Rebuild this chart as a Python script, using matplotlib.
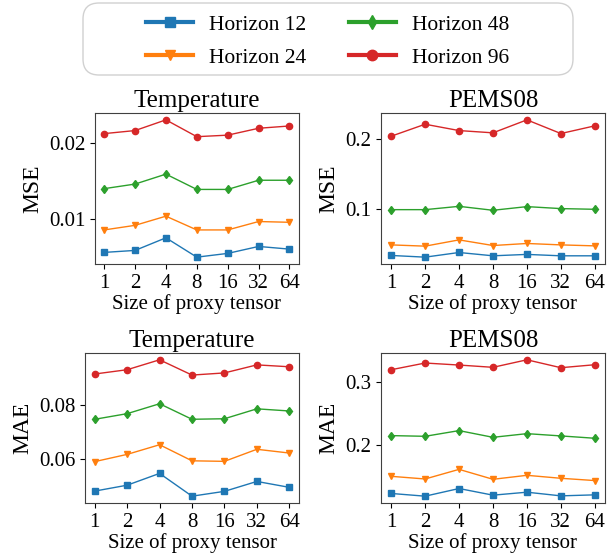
import matplotlib.pyplot as plt
from matplotlib.lines import Line2D
from matplotlib.patches import FancyBboxPatch
from matplotlib.transforms import IdentityTransform

plt.rcParams['font.family'] = ['Liberation Serif', 'DejaVu Serif']

# proxy tensor sizes
sizes = ['1', '2', '4', '8', '16', '32', '64']
horizons = ['Horizon 12', 'Horizon 24', 'Horizon 48', 'Horizon 96']
colors = ['#1f77b4', '#ff7f0e', '#2ca02c', '#d62728']
markers = ['s', 'v', 'd', 'o']

# Temperature MSE
temp_mse_12 = [0.00566, 0.00592, 0.00757, 0.00504, 0.00553, 0.00644, 0.00609]
temp_mse_24 = [0.0086, 0.0092, 0.0104, 0.0086, 0.0086, 0.0097, 0.0096]
temp_mse_48 = [0.0140, 0.0146, 0.0159, 0.0139, 0.0139, 0.0151, 0.0151]
temp_mse_96 = [0.0212, 0.0216, 0.0230, 0.0208, 0.0210, 0.0219, 0.0222]

# PEMS08 MSE
pems_mse_12 = [0.0345, 0.0321, 0.0387, 0.0340, 0.0360, 0.0340, 0.0340]
pems_mse_24 = [0.0495, 0.0477, 0.0566, 0.0486, 0.0515, 0.0495, 0.0481]
pems_mse_48 = [0.0995, 0.0995, 0.1042, 0.0986, 0.1038, 0.1010, 0.1000]
pems_mse_96 = [0.2037, 0.2207, 0.2117, 0.2085, 0.2269, 0.2075, 0.2184]

# Temperature MAE
temp_mae_12 = [0.0480, 0.0502, 0.0546, 0.0461, 0.0479, 0.0516, 0.0494]
temp_mae_24 = [0.0590, 0.0617, 0.0653, 0.0593, 0.0591, 0.0636, 0.0622]
temp_mae_48 = [0.0748, 0.0769, 0.0806, 0.0748, 0.0750, 0.0787, 0.0779]
temp_mae_96 = [0.0917, 0.0933, 0.0970, 0.0913, 0.0921, 0.0951, 0.0944]

# PEMS08 MAE
pems_mae_12 = [0.1231, 0.1188, 0.1309, 0.1204, 0.1251, 0.1193, 0.1209]
pems_mae_24 = [0.1502, 0.1460, 0.1612, 0.1455, 0.1518, 0.1471, 0.1435]
pems_mae_48 = [0.2146, 0.2135, 0.2225, 0.2119, 0.2177, 0.2141, 0.2104]
pems_mae_96 = [0.3188, 0.3294, 0.3262, 0.3226, 0.3345, 0.3220, 0.3267]

panels = [
    ('Temperature', 'MSE', [temp_mse_12, temp_mse_24, temp_mse_48, temp_mse_96], [0.154, 0.5243, 0.331, 0.2721]),
    ('PEMS08', 'MSE', [pems_mse_12, pems_mse_24, pems_mse_48, pems_mse_96], [0.6185, 0.5243, 0.3636, 0.2721]),
    ('Temperature', 'MAE', [temp_mae_12, temp_mae_24, temp_mae_48, temp_mae_96], [0.138, 0.0937, 0.3474, 0.2703]),
    ('PEMS08', 'MAE', [pems_mae_12, pems_mae_24, pems_mae_48, pems_mae_96], [0.6185, 0.0937, 0.3636, 0.2703]),
]

fig = plt.figure(figsize=(6.16, 5.55), dpi=100)
x = list(range(len(sizes)))

for title, metric, series, pos in panels:
    ax = fig.add_axes(pos)
    for vals, c, m in zip(series, colors, markers):
        ax.plot(x, vals, color=c, marker=m, markersize=4.5, linewidth=1)
    ax.set_title(title, fontsize=18, pad=4)
    ax.set_ylabel(metric, fontsize=17)
    ax.set_xticks(x)
    ax.set_xticklabels(sizes)
    ax.tick_params(labelsize=15)
    if title == 'Temperature' and metric == 'MSE':
        ax.set_yticks([0.01, 0.02])
    ax.set_xlabel('Size of proxy tensor', fontsize=15, labelpad=1)
    for s in ax.spines.values():
        s.set_color('0.25')

# legend frame: wide rounded box, drawn separately
frame = FancyBboxPatch((83, 480), 490, 72, boxstyle='round,pad=0,rounding_size=16',
                       transform=IdentityTransform(), facecolor='white',
                       edgecolor='0.82', linewidth=1)
fig.patches.append(frame)

handles = [Line2D([], [], color=c, marker=m, markersize=7.5, linewidth=3)
           for c, m in zip(colors, markers)]
fig.legend(handles, horizons, loc='center', bbox_to_anchor=(0.532, 0.926),
           ncol=2, fontsize=15.5, frameon=False,
           columnspacing=1.95, handlelength=2.2, handletextpad=0.75,
           labelspacing=0.6)

fig.savefig('out.png', dpi=100)
